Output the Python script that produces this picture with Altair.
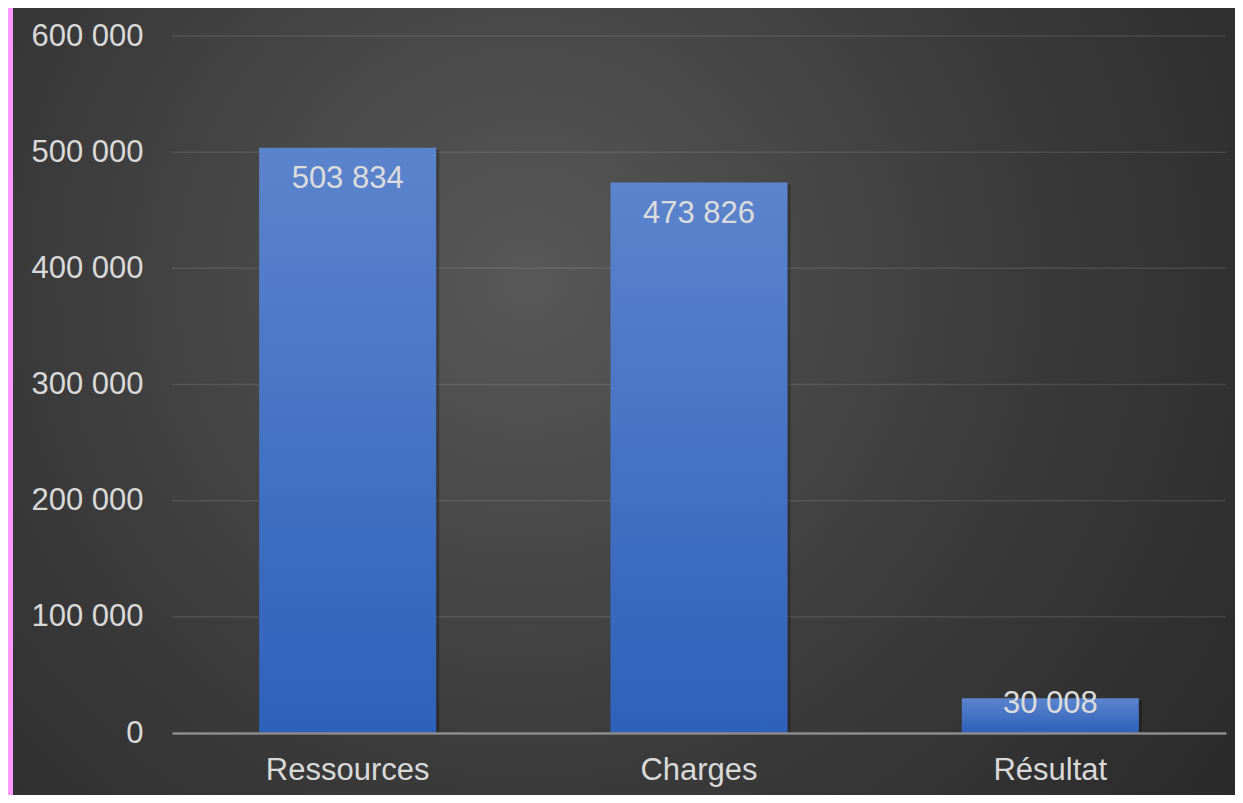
import altair as alt
import pandas as pd

categories = ["Ressources", "Charges", "Résultat"]
values = [503834, 473826, 30008]
y_ticks = [0, 100000, 200000, 300000, 400000, 500000, 600000]

df = pd.DataFrame({"cat": categories, "val": values})
grid_df = pd.DataFrame({"t": y_ticks[1:]})

W, H = 1054, 697
PL, PT, PR, PB = 164, 28, 9, 62
FONT = "Liberation Sans"
TXT = "#d9d9d9"

xscale = alt.Scale(paddingInner=0.496, paddingOuter=0.248)
yscale = alt.Scale(domain=[0, 600000], nice=False)

bg = alt.Chart(alt.Data(values=[{"k": 1}])).mark_rect(
    color=alt.RadialGradient(
        gradient="radial",
        stops=[alt.GradientStop(color="#585858", offset=0),
               alt.GradientStop(color="#3a3a3a", offset=0.55),
               alt.GradientStop(color="#282828", offset=1)],
        x1=0.42, y1=0.40, x2=0.42, y2=0.40, r1=0, r2=0.75),
).encode(
    x=alt.value(-PL + 5), x2=alt.value(W + PR),
    y=alt.value(-PT), y2=alt.value(H + PB),
)

grid = alt.Chart(grid_df).mark_rule(color="#ffffff", opacity=0.1, strokeWidth=1.5).encode(
    y=alt.Y("t:Q", scale=yscale),
    x=alt.value(0), x2=alt.value(W),
)

xaxis = alt.Axis(labelAngle=0, labelAlign="center", labelFontSize=31, labelColor=TXT,
                 labelFont=FONT, labelPadding=22, tickSize=0, ticks=False,
                 domainColor="#8c8c8c", domainWidth=2.5, grid=False,
                 labelBaseline="top", zindex=1)
yaxis = alt.Axis(values=y_ticks, labelFontSize=31, labelColor=TXT,
                 labelFont=FONT, labelPadding=29, tickSize=0, ticks=False,
                 domain=False, grid=False, zindex=1,
                 labelExpr="replace(format(datum.value, ','), ',', ' ')")

xenc = alt.X("cat:N", sort=categories, title=None, scale=xscale, axis=xaxis)
yenc = alt.Y("val:Q", title=None, scale=yscale, axis=yaxis)

shadow = alt.Chart(df).mark_bar(color="#000000", opacity=0.25, xOffset=3, yOffset=2).encode(
    x=xenc, y=yenc,
)

bars = alt.Chart(df).mark_bar(
    color=alt.LinearGradient(
        gradient="linear",
        stops=[alt.GradientStop(color="#5c84cd", offset=0),
               alt.GradientStop(color="#2e61ba", offset=1)],
        x1=0, y1=0, x2=0, y2=1),
).encode(x=xenc, y=yenc)

labels = alt.Chart(df).transform_calculate(
    ly="max(datum.val - 27300, 25000)",
    lbl="replace(format(datum.val, ','), ',', ' ')",
).mark_text(font=FONT, fontSize=31, color="#dcdcdc", baseline="middle", align="center").encode(
    x=xenc,
    y=alt.Y("ly:Q", scale=yscale, axis=yaxis, title=None),
    text="lbl:N",
)

chart = alt.layer(bg, grid, shadow, bars, labels).properties(
    width=W, height=H,
    autosize=alt.AutoSizeParams(type="none"),
    padding={"left": PL, "top": PT, "right": PR, "bottom": PB},
    background="#ff99ff",
).configure_view(strokeWidth=0)

chart.save("out.html", embed_options={"renderer": "svg", "actions": False})
